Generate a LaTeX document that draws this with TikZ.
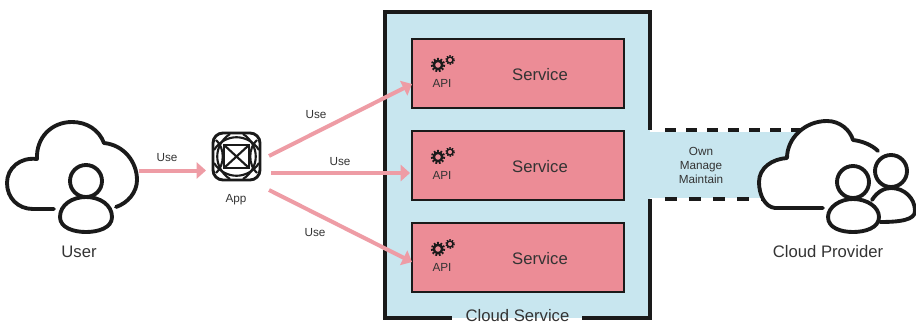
\documentclass[tikz,border=0pt]{standalone}
\usepackage{fontspec}
\setmainfont{Liberation Sans}
\usetikzlibrary{arrows.meta}
\definecolor{teal}{HTML}{C8E6EF}
\definecolor{pinkfill}{HTML}{EC8C96}
\definecolor{pinkline}{HTML}{EE9CA5}
\definecolor{ink}{HTML}{1A1A1A}
\definecolor{txt}{HTML}{333333}
\tikzset{
  big/.style={font=\fontsize{12.5pt}{14pt}\selectfont,text=txt,inner sep=0pt},
  small/.style={font=\fontsize{8.8pt}{10.5pt}\selectfont,text=txt,inner sep=0pt,align=center},
  servicebox/.style={draw=ink,line width=2pt,fill=pinkfill,minimum width=159pt,minimum height=51.75pt,inner sep=0pt},
  outline/.style={draw=ink,line width=2.9pt,line join=round,line cap=round},
  flow/.style={draw=pinkline,line width=3pt,-{Triangle[length=7pt,width=12pt]}},
  frame/.style={draw=ink,line width=3pt,line join=miter},
  dashtop/.style={draw=ink,line width=3pt,dash pattern=on 8.5pt off 7.25pt},
  dashbot/.style={draw=ink,line width=3pt,dash pattern=on 9pt off 9pt},
  gearbig/.pic={\draw[ink,line width=1.8pt] (0,0) circle (4.2);
    \draw[ink,line width=1.7pt,dash pattern=on 1.3pt off 1.25pt] (0,0) circle (6);},
  gearsmall/.pic={\draw[ink,line width=1.1pt] (0,0) circle (3);
    \draw[ink,line width=1pt,dash pattern=on 1pt off 1pt] (0,0) circle (4.2);},
}
\begin{document}
\begin{tikzpicture}[x=0.75pt,y=-0.75pt]
\useasboundingbox (0,0) rectangle (916,324);
% cloud service
\node[fill=teal,minimum width=198.75pt,minimum height=229.5pt,inner sep=0pt] (outer) at (517.5,165) {};
\fill[teal] (650,132) rectangle (800,198);
\draw[frame] (582,318) -- (650,318) -- (650,199);
\draw[frame] (650,130) -- (650,12) -- (385,12) -- (385,318) -- (452,318);
\node[big] (cs) at (517.5,316) {Cloud Service};
\draw[dashtop] (665,130) -- (800,130);
\draw[dashbot] (665,199) -- (770,199);
\foreach \n/\y in {1/73.5,2/165.5,3/257.5}{
  \node[servicebox] (s\n) at (518,\y) {};
  \node[big] (t\n) at (540,\y+1) {Service};
  \node[small] (api\n) at (442,\y+9.5) {API};
  \pic at (438,\y-8.5) {gearbig};
  \pic at (450,\y-13.5) {gearsmall};
}
% user
\path[outline] (54,209) -- (33,209) .. controls (18,209) and (7,198) .. (7,183)
  .. controls (7,168) and (20,157) .. (37,159)
  .. controls (36,137) and (52,122) .. (72,122)
  .. controls (87,122) and (99,130) .. (104,143)
  .. controls (124,145) and (137,162) .. (137,180)
  .. controls (137,192) and (128,203) .. (116,207);
\draw[outline] (86,181) circle (16);
\draw[outline] (60,217) .. controls (60,205) and (72,197) .. (86,197)
  .. controls (100,197) and (112,205) .. (112,217)
  .. controls (112,228) and (98,232) .. (86,232)
  .. controls (74,232) and (60,228) .. (60,217) -- cycle;
\node[big] (user) at (79,252) {User};
% app
\node[draw=ink,line width=2.2pt,rounded corners=7.5pt,minimum width=35.25pt,minimum height=35.25pt,inner sep=0pt] (app) at (236.5,156.5) {};
\begin{scope}[ink,line width=1.6pt]
  \draw (224,145) rectangle (249,168);
  \draw (224,145) -- (249,168) (224,168) -- (249,145);
  \draw (214,150) .. controls (225,133) and (248,133) .. (259,150);
  \draw (214,163) .. controls (225,180) and (248,180) .. (259,163);
  \draw (230,134) .. controls (213,145) and (213,168) .. (230,179);
  \draw (243,134) .. controls (260,145) and (260,168) .. (243,179);
  \draw (216,140) .. controls (225,148) and (225,165) .. (216,173);
  \draw (257,140) .. controls (248,148) and (248,165) .. (257,173);
\end{scope}
\node[small] (applabel) at (236,200) {App};
% provider
\path[fill=white] (823,208) -- (775,208) .. controls (765,207) and (759,195) .. (759,182)
  .. controls (759,168) and (772,159) .. (787,158)
  .. controls (787,138) and (805,121) .. (827,121)
  .. controls (840,121) and (850,130) .. (853,140)
  .. controls (862,141) and (872,145) .. (878,151) -- (878,208) -- cycle;
\path[outline] (823,208) -- (775,208) .. controls (765,207) and (759,195) .. (759,182)
  .. controls (759,168) and (772,159) .. (787,158)
  .. controls (787,138) and (805,121) .. (827,121)
  .. controls (840,121) and (850,130) .. (853,140)
  .. controls (862,141) and (872,145) .. (878,151);
\draw[outline] (891,171) circle (16);
\draw[outline] (872,200) .. controls (877,192) and (884,188) .. (891,188)
  .. controls (904,188) and (915,198) .. (915,211)
  .. controls (915,220) and (900,222) .. (880,222);
\draw[outline,fill=white] (853,182) circle (16);
\draw[outline,fill=white] (828,217) .. controls (828,207) and (840,199) .. (853,199)
  .. controls (867,199) and (879,207) .. (879,217)
  .. controls (879,228) and (865,232) .. (853,232)
  .. controls (841,232) and (828,228) .. (828,217) -- cycle;
\node[big] (prov) at (828,252) {Cloud Provider};
\node[small,font=\fontsize{8.8pt}{10.2pt}\selectfont] (own) at (701,165.5) {Own\\Manage\\Maintain};
% connectors
\coordinate (uo) at (139,170.5);
\coordinate (a0) at (206,170.5);
\coordinate (a1) at (269,156);
\coordinate (a2) at (271,173);
\coordinate (a3) at (269,190);
\coordinate (e1) at (412,84);
\coordinate (e2) at (410,173);
\coordinate (e3) at (412,262);
\draw[flow] (uo) -- (a0);
\draw[flow] (a1) -- (e1);
\draw[flow] (a2) -- (e2);
\draw[flow] (a3) -- (e3);
\node[small] (l0) at (167,158) {Use};
\node[small] (l1) at (316,115) {Use};
\node[small] (l2) at (340,162) {Use};
\node[small] (l3) at (315,233) {Use};
\end{tikzpicture}
\end{document}
